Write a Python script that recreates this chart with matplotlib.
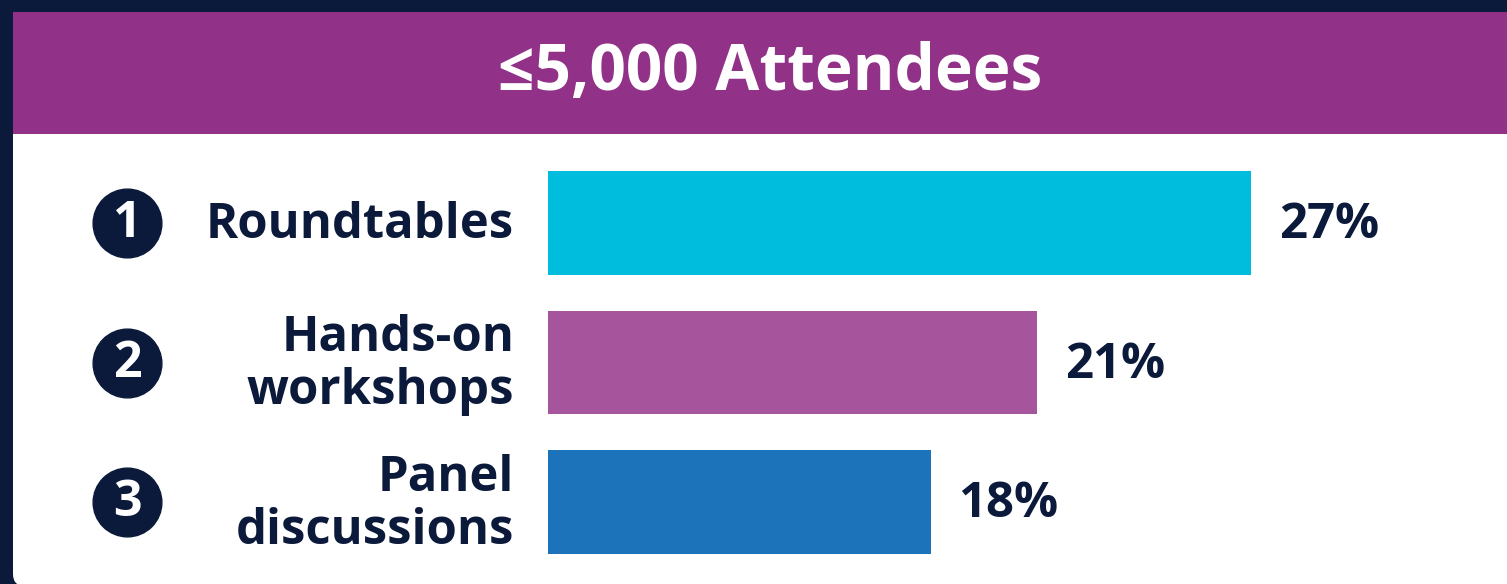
import matplotlib.pyplot as plt
from matplotlib.patches import FancyBboxPatch, Rectangle
from matplotlib.transforms import blended_transform_factory

plt.rcParams['font.family'] = ['Open Sans', 'DejaVu Sans']

title = "\u22645,000 Attendees"
ranks = ["1", "2", "3"]
formats = ["Roundtables", "Hands-on\nworkshops", "Panel\ndiscussions"]
shares = [27, 21, 18]
bar_colors = ["#00bcdd", "#a6559d", "#1c73ba"]

navy = "#0b1a3b"
header_purple = "#913187"

W, H = 1507, 584
fig = plt.figure(figsize=(W / 100, H / 100), dpi=100)
fig.patch.set_facecolor(navy)

# background layer in pixel units: card + header band
bg = fig.add_axes([0, 0, 1, 1])
bg.set_xlim(0, W)
bg.set_ylim(H, 0)
bg.axis("off")
card = FancyBboxPatch((13, 12), W + 40, 574, boxstyle="round,pad=0,rounding_size=12",
                      fc="white", ec="none")
bg.add_patch(card)
bg.add_patch(Rectangle((13, 12), W, 122, fc=header_purple, ec="none"))
bg.text(770, 74, title, color="white", fontsize=46, fontweight="bold",
        ha="center", va="center")

# bar panel
left_px, right_px = 548, 1507
top_px, bot_px = 171, 554
ax = fig.add_axes([left_px / W, (H - bot_px) / H,
                   (right_px - left_px) / W, (bot_px - top_px) / H])
ax.set_facecolor("none")
ypos = list(range(len(shares)))
ax.barh(ypos, shares, height=0.745, color=bar_colors)
ax.set_xlim(7.24, 7.24 + (right_px - left_px) / 35.57)
ax.set_ylim(len(shares) - 1 + 0.373, -0.373)
ax.axis("off")

for y, v in zip(ypos, shares):
    ax.annotate(f"{v}%", (v, y), xytext=(20, -2), textcoords="offset points",
                ha="left", va="center", fontsize=35.3, fontweight="bold",
                color=navy, annotation_clip=False)

# category labels and rank badges sit left of the bars
lab_tr = blended_transform_factory(fig.transFigure, ax.transData)
for y, name in zip(ypos, formats):
    ax.annotate(name, (514 / W, y), xycoords=lab_tr, xytext=(0, -2),
                textcoords="offset points", ha="right", va="center",
                fontsize=35.3, fontweight="bold", color=navy, linespacing=1.1,
                annotation_clip=False)

ax.scatter([127 / W] * len(ranks), ypos, transform=lab_tr, s=2450,
           color=navy, clip_on=False, zorder=3)
for y, r in zip(ypos, ranks):
    ax.annotate(r, (127 / W, y), xycoords=lab_tr, xytext=(0, -1),
                textcoords="offset points", ha="center", va="center",
                fontsize=36, fontweight="bold", color="white", zorder=4,
                annotation_clip=False)

fig.savefig("out.png", dpi=100, facecolor=fig.get_facecolor())
